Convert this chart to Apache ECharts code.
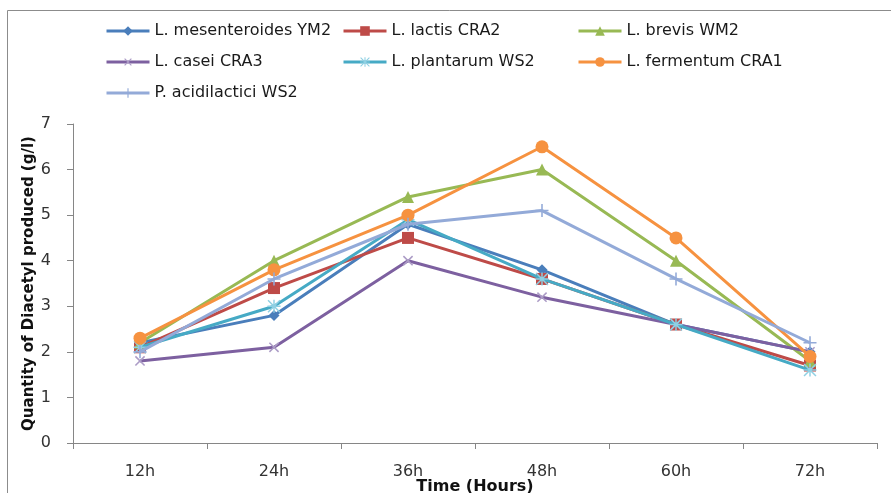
<!DOCTYPE html>
<html>
<head>
<meta charset="utf-8">
<script src="https://cdn.jsdelivr.net/npm/echarts@6/dist/echarts.min.js"></script>
<style>
html,body{margin:0;padding:0;background:#fff;}
#chart{width:891px;height:493px;}
</style>
</head>
<body>
<div id="chart"></div>
<script>
var categories = ['12h', '24h', '36h', '48h', '60h', '72h'];
var seriesNames = ['L. mesenteroides YM2', 'L. lactis CRA2', 'L. brevis WM2', 'L. casei CRA3', 'L. plantarum WS2', 'L. fermentum CRA1', 'P. acidilactici WS2'];
var mesenteroidesYM2 = [2.2, 2.8, 4.8, 3.8, 2.6, 2.0];
var lactisCRA2 = [2.1, 3.4, 4.5, 3.6, 2.6, 1.7];
var brevisWM2 = [2.2, 4.0, 5.4, 6.0, 4.0, 1.8];
var caseiCRA3 = [1.8, 2.1, 4.0, 3.2, 2.6, 2.0];
var plantarumWS2 = [2.1, 3.0, 4.9, 3.6, 2.6, 1.6];
var fermentumCRA1 = [2.3, 3.8, 5.0, 6.5, 4.5, 1.9];
var acidilacticiWS2 = [2.0, 3.6, 4.8, 5.1, 3.6, 2.2];
var yTicks = [0, 1, 2, 3, 4, 5, 6, 7];

var values = [mesenteroidesYM2, lactisCRA2, brevisWM2, caseiCRA3, plantarumWS2, fermentumCRA1, acidilacticiWS2];
var colors = ['#4A7EBB', '#BE4B48', '#98B954', '#7D60A0', '#46AAC5', '#F69240', '#93AAD8'];
var markerColors = ['#4A7EBB', '#BE4B48', '#98B954', '#AC9CC6', '#8FD0E3', '#F69240', '#93AAD8'];
var PLUS = 'path://M0,4.4 L10,4.4 L10,5.6 L0,5.6 Z M4.4,0 L5.6,0 L5.6,10 L4.4,10 Z';
var STAR = 'path://M0,4.45 L10,4.45 L10,5.55 L0,5.55 Z M4.45,0 L5.55,0 L5.55,10 L4.45,10 Z M0.8,0 L10,9.2 L9.2,10 L0,0.8 Z M9.2,0 L10,0.8 L0.8,10 L0,9.2 Z';
var symbols = ['diamond', 'rect', 'triangle', PLUS, STAR, 'circle', PLUS];
var symbolSizes = [11, 12, 12, 13, 13, 13, 13];
var symbolRotates = [0, 0, 0, 45, 0, 0, 0];

var font = 'DejaVu Sans';
var series = seriesNames.map(function (n, i) {
  return {
    name: n,
    type: 'line',
    data: values[i],
    symbol: symbols[i],
    symbolSize: symbolSizes[i],
    symbolRotate: symbolRotates[i],
    lineStyle: { color: colors[i], width: 3 },
    itemStyle: { color: markerColors[i] },
    z: 2 + i,
    animation: false
  };
});

// legend slots: [left, top] for each series
var legendLefts = [105, 342, 577];
var legendTops = [23, 54, 85];
var legends = seriesNames.map(function (n, i) {
  return {
    data: [n],
    left: legendLefts[i % 3],
    top: legendTops[Math.floor(i / 3)],
    padding: 0,
    orient: 'horizontal',
    itemWidth: 43,
    itemHeight: 12,
    lineStyle: { width: 3 },
    textStyle: { fontFamily: font, fontSize: 16, color: '#1a1a1a' },
    selectedMode: false
  };
});

var chart = echarts.init(document.getElementById('chart'), null, { renderer: 'canvas' });
chart.setOption({
  animation: false,
  backgroundColor: '#fff',
  color: colors,
  graphic: [{
    type: 'rect', left: 5, top: 8,
    shape: { width: 1000, height: 600 },
    style: { fill: 'none', stroke: '#8c8c8c', lineWidth: 1 },
    silent: true
  }],
  legend: legends,
  grid: { left: 73, right: 14, top: 124, bottom: 50, containLabel: false, outerBoundsMode: 'none' },
  xAxis: {
    type: 'category',
    data: categories,
    boundaryGap: true,
    name: 'Time (Hours)',
    nameLocation: 'middle',
    nameGap: 36,
    nameMoveOverlap: false,
    nameTextStyle: { fontFamily: font, fontSize: 16, fontWeight: 'bold', color: '#111' },
    axisLine: { lineStyle: { color: '#868686', width: 1 } },
    axisTick: { show: true, length: 6, lineStyle: { color: '#868686' } },
    axisLabel: { margin: 21, fontFamily: font, fontSize: 16, color: '#333' },
    splitLine: { show: false }
  },
  yAxis: {
    type: 'value',
    min: yTicks[0],
    max: yTicks[yTicks.length - 1],
    interval: 1,
    name: 'Quantity of Diacetyl produced (g/l)',
    nameLocation: 'middle',
    nameRotate: 90,
    nameGap: 36,
    nameMoveOverlap: false,
    nameTextStyle: { fontFamily: font, fontSize: 15, fontWeight: 'bold', color: '#111' },
    axisLine: { show: true, lineStyle: { color: '#868686', width: 1 } },
    axisTick: { show: true, length: 6, lineStyle: { color: '#868686' } },
    axisLabel: { margin: 22, fontFamily: font, fontSize: 16, color: '#333' },
    splitLine: { show: false }
  },
  series: series
});
</script>
</body>
</html>
